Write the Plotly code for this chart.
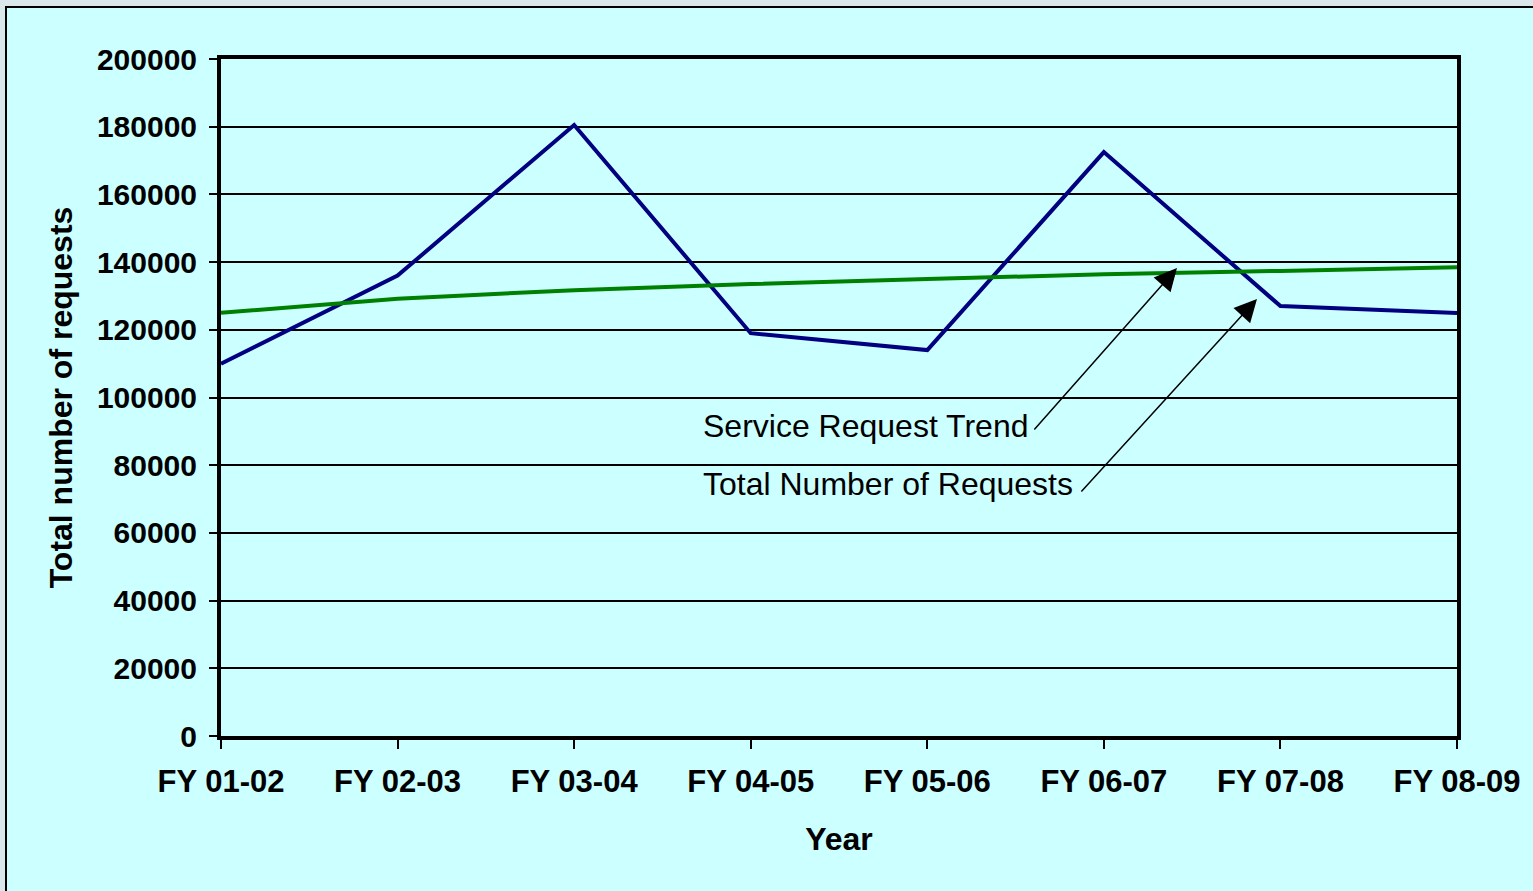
import plotly.graph_objects as go

# Fiscal years and yearly service request totals
years = ["FY 01-02", "FY 02-03", "FY 03-04", "FY 04-05",
         "FY 05-06", "FY 06-07", "FY 07-08", "FY 08-09"]
total_requests = [110000, 136000, 180500, 119000, 114000, 172500, 127000, 125000]
# Fitted trend of the yearly totals
request_trend = [125000, 129200, 131700, 133500, 135000, 136400, 137400, 138500]

y_ticks = list(range(0, 200001, 20000))

FONT = "Arial, Liberation Sans, sans-serif"
W, H = 1533, 891
L, R, T, B = 221, 76, 59, 155
PW, PH = W - L - R, H - T - B


def px_to_paper(px, py):
    return (px - L) / PW, (H - B - py) / PH


fig = go.Figure()
fig.add_trace(go.Scatter(x=years, y=total_requests, mode="lines",
                         line=dict(color="#000080", width=4),
                         name="Total Number of Requests"))
fig.add_trace(go.Scatter(x=years, y=request_trend, mode="lines",
                         line=dict(color="#008000", width=4),
                         name="Service Request Trend"))

# chart panel: light cyan area with a thin black frame
x0, y0 = px_to_paper(6, 7)
x1, y1 = px_to_paper(W + 20, H + 20)
fig.add_shape(type="rect", xref="paper", yref="paper",
              x0=x0, y0=y0, x1=x1, y1=y1,
              fillcolor="#ccffff", line=dict(color="black", width=2),
              layer="below")

# callouts
callouts = [
    ("Service Request Trend", (701, 426), (1033, 431), (1177, 268)),
    ("Total Number of Requests", (701, 484), (1080, 493), (1257, 299)),
]
for text, (tx, ty), (ax_, ay_), (hx, hy) in callouts:
    px_, py_ = px_to_paper(tx, ty)
    fig.add_annotation(text=text, xref="paper", yref="paper", x=px_, y=py_,
                       xanchor="left", yanchor="middle", showarrow=False,
                       font=dict(family=FONT, size=32, color="black"))
    hxp, hyp = px_to_paper(hx, hy)
    fig.add_annotation(text="", xref="paper", yref="paper", x=hxp, y=hyp,
                       ax=ax_ - hx, ay=ay_ - hy, showarrow=True,
                       arrowhead=2, arrowsize=3, arrowwidth=1.5,
                       arrowcolor="black")

fig.update_layout(
    width=W, height=H,
    margin=dict(l=L, r=R, t=T, b=B),
    paper_bgcolor="#dbe8eb",
    plot_bgcolor="#ccffff",
    showlegend=False,
    font=dict(family=FONT, color="black"),
)
fig.update_xaxes(
    type="category", range=[0, len(years) - 1],
    showline=True, linecolor="black", linewidth=4, mirror=True,
    showgrid=False, zeroline=False,
    ticks="outside", ticklen=9, tickwidth=2, tickcolor="black",
    ticklabelstandoff=6,
    tickfont=dict(family=FONT, size=31, color="black", weight="bold"),
    title=dict(text="Year", standoff=30,
               font=dict(family=FONT, size=32, color="black", weight="bold")),
)
fig.update_yaxes(
    range=[0, 200000], tickvals=y_ticks, tickformat="d",
    showline=True, linecolor="black", linewidth=4, mirror=True,
    showgrid=True, gridcolor="black", gridwidth=2, zeroline=False,
    ticks="outside", ticklen=8, tickwidth=2, tickcolor="black",
    ticklabelstandoff=6,
    tickfont=dict(family=FONT, size=30, color="black", weight="bold"),
    title=dict(text="Total number of requests", standoff=16,
               font=dict(family=FONT, size=32, color="black", weight="bold")),
)

fig.write_html("out.html")
